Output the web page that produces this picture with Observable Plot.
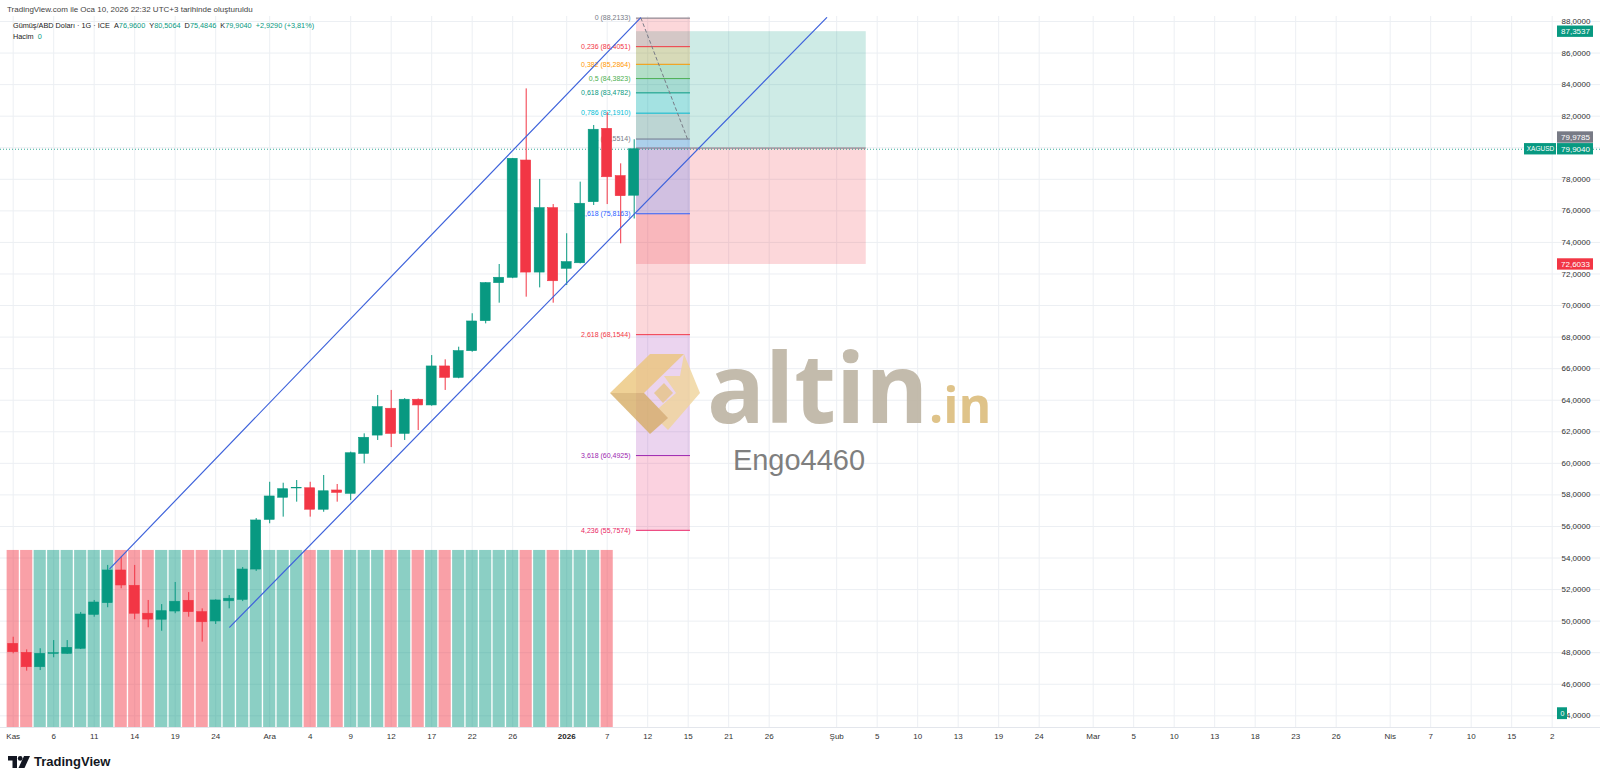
<!DOCTYPE html>
<html>
<head>
<meta charset="utf-8">
<script src="https://cdn.jsdelivr.net/npm/d3@7"></script>
<script src="https://cdn.jsdelivr.net/npm/@observablehq/plot@0.6"></script>
<style>
  html, body { margin: 0; padding: 0; background: #fff; }
  body { width: 1600px; height: 783px; position: relative; overflow: hidden; font-family: "Liberation Sans", Arial, sans-serif; }
  #chart { position: absolute; left: 0; top: 16px; }
  .abs { position: absolute; white-space: nowrap; }
  #hdr1 { left: 7px; top: 5px; font-size: 8px; color: #444; }
  #leg1 { left: 13px; top: 21px; font-size: 7.3px; color: #222; }
  #leg2 { left: 13px; top: 32px; font-size: 7.3px; color: #222; }
  .v { color: #089981; }
  #tvlogo { left: 8px; top: 754px; display: flex; align-items: center; gap: 4px; font-weight: bold; font-size: 13px; color: #131722; }
  #overlay { position: absolute; left: 0; top: 0; pointer-events: none; }
</style>
</head>
<body>
<div id="hdr1" class="abs">TradingView.com ile Oca 10, 2026 22:32 UTC+3 tarihinde oluşturuldu</div>
<div id="chart"></div>
<div id="leg1" class="abs">Gümüş/ABD Doları · 1G · ICE&nbsp;&nbsp;A<span class="v">76,9600</span>&nbsp;&nbsp;Y<span class="v">80,5064</span>&nbsp;&nbsp;D<span class="v">75,4846</span>&nbsp;&nbsp;K<span class="v">79,9040</span>&nbsp;&nbsp;<span class="v">+2,9290 (+3,81%)</span></div>
<div id="leg2" class="abs">Hacim&nbsp;&nbsp;<span class="v">0</span></div>
<svg id="overlay" width="1600" height="783">
  <g opacity="0.8">
    <polygon points="610,393 650,354 684,354 644,393" fill="#ecc67c"/>
    <polygon points="684,354 700,393 668,430 652,414 676,393 664,376 680,376" fill="#f0d49a"/>
    <polygon points="610,393 644,393 668,418 650,434" fill="#d6ad66"/>
    <polygon points="654,393 664,383 673,393 663,403" fill="#e7c587"/>
  </g>
  <text x="707" y="423" font-family="Open Sans, sans-serif" font-weight="700" font-size="96" fill="#bdb4a3" fill-opacity="0.9">altin</text>
  <text x="929" y="423" font-family="Open Sans, sans-serif" font-weight="700" font-size="50" fill="#dcbd7c" fill-opacity="0.9">.in</text>
  <text x="799" y="470" text-anchor="middle" font-family="Liberation Sans, Arial, sans-serif" font-size="29" fill="#7f7f7f">Engo4460</text>
</svg>
<div id="tvlogo" class="abs">
  <svg width="22" height="12" viewBox="0 0 22 12"><path d="M0 0h9v12h-4.5v-7.5h-4.5z" fill="#131722"/><circle cx="12.2" cy="2.4" r="2.4" fill="#131722"/><path d="M16 0h6l-5.5 12h-6z" fill="#131722"/></svg>
  <span>TradingView</span>
</div>
<script>
// ---- Data: daily candles, trading-day index 0 = 3 Kas 2025 ... 46 = 9 Oca 2026
const dates = ["2025-11-03","2025-11-04","2025-11-05","2025-11-06","2025-11-07","2025-11-10","2025-11-11","2025-11-12","2025-11-13","2025-11-14",
  "2025-11-17","2025-11-18","2025-11-19","2025-11-20","2025-11-21","2025-11-24","2025-11-25","2025-11-26","2025-11-28",
  "2025-12-01","2025-12-02","2025-12-03","2025-12-04","2025-12-05","2025-12-08","2025-12-09","2025-12-10","2025-12-11","2025-12-12",
  "2025-12-15","2025-12-16","2025-12-17","2025-12-18","2025-12-19","2025-12-22","2025-12-23","2025-12-24","2025-12-26",
  "2025-12-29","2025-12-30","2025-12-31","2026-01-02","2026-01-05","2026-01-06","2026-01-07","2026-01-08","2026-01-09"];
const openP  = [48.56,47.99,47.08,47.93,47.93,48.25,50.40,51.14,53.21,52.24,50.47,50.09,50.61,51.29,50.57,49.98,51.26,51.35,53.27,
  56.42,57.82,58.41,58.42,57.06,58.28,58.07,60.60,61.76,63.46,61.87,64.03,63.67,66.14,65.42,67.11,69.01,71.42,71.76,
  79.19,72.09,76.17,72.33,72.68,76.55,81.20,78.20,76.96];
const highP  = [48.98,48.18,48.25,48.77,48.77,50.55,51.31,53.53,54.05,53.53,51.31,51.05,52.45,51.81,50.78,51.35,51.62,53.40,56.50,
  58.80,58.74,58.91,58.80,59.23,58.66,60.71,61.87,64.30,64.62,64.10,64.08,66.83,66.56,67.36,69.48,71.45,72.60,79.32,
  83.73,77.99,76.40,74.55,77.82,81.41,82.23,78.98,80.5064];
const lowP   = [47.93,46.83,46.87,47.68,47.90,48.20,50.25,50.85,52.05,50.09,49.58,49.36,50.47,50.25,48.67,49.79,50.78,51.24,53.15,
  56.17,56.59,57.54,56.59,56.90,57.54,57.64,59.97,61.45,61.00,61.45,62.08,63.62,64.62,65.36,67.04,68.84,70.15,71.70,
  70.53,71.12,70.15,71.27,72.64,76.34,76.40,73.91,75.4846];
const closeP = [48.03,47.08,47.93,47.97,48.31,50.42,51.18,53.21,52.26,50.47,50.10,50.63,51.23,50.57,49.93,51.31,51.42,53.27,56.38,
  57.90,58.36,58.44,57.06,58.23,58.13,60.64,61.62,63.56,61.87,64.03,63.67,66.14,65.42,67.11,68.99,71.42,71.76,79.30,
  72.09,76.17,71.54,72.75,76.45,81.14,78.13,76.93,79.904];
// volume pane: equal-height bars for days 0..44, top level of the pane on the price scale
const volumeDays = 45;
const volumeTop = 54.48;

// time axis (trading-day index -> label)
const tickIdx = [0,3,6,9,12,15,19,22,25,28,31,34,37,41,44,47,50,53,56,61,64,67,70,73,76,80,83,86,89,92,95,98,102,105,108,111,114];
const tickLabels = ["Kas","6","11","14","19","24","Ara","4","9","12","17","22","26","2026","7","12","15","21","26","Şub","5","10","13","19","24","Mar","5","10","13","18","23","26","Nis","7","10","15","2"];
const priceTicks = [44,46,48,50,52,54,56,58,60,62,64,66,68,70,72,74,76,78,80,82,84,86,88];

// ascending channel (two parallel trend lines)
const channelUpper = [{i: 7.16, p: 53.33}, {i: 46.47, p: 88.23}];
const channelLower = [{i: 16.04, p: 49.62}, {i: 60.26, p: 88.25}];

// Fibonacci extension
const fibRatios = [0, 0.236, 0.382, 0.5, 0.618, 0.786, 1, 1.618, 2.618, 3.618, 4.236];
const fibPrices = [88.2133, 86.4051, 85.2864, 84.3823, 83.4782, 82.1910, 80.5514, 75.8163, 68.1544, 60.4925, 55.7574];
const fibColors = ["#787b86","#f23645","#ff9800","#4caf50","#089981","#00bcd4","#787b86","#2962ff","#f23645","#9c27b0","#e91e63"];
const fibSpan = [46.17, 50.17];
const fibTrend = [{i: 46.5, p: 88.2133}, {i: 49.95, p: 80.5514}];

// Long position tool
const longSpan = [46.17, 63.19];
const longEntry = 79.9785, longTarget = 87.3537, longStop = 72.6033;
const lastPrice = 79.904;

// ---- build
const UP = "#089981", DOWN = "#f23645";
const candles = dates.map((d, i) => ({i, date: d, o: openP[i], h: highP[i], l: lowP[i], c: closeP[i], up: closeP[i] >= openP[i]}));
const vols = candles.slice(0, volumeDays);
const fmt = v => v.toFixed(4).replace(".", ",");
const fmtRatio = r => String(r).replace(".", ",");
const fibLevels = fibRatios.map((r, k) => ({r, p: fibPrices[k], color: fibColors[k], label: `${fmtRatio(r)} (${fmt(fibPrices[k])})`}));
const fibBands = fibLevels.slice(1).map((L, k) => ({p1: fibLevels[k].p, p2: L.p, color: L.color}));
const labelOf = new Map(tickIdx.map((t, k) => [t, tickLabels[k]]));

const W = 1600, H = 729;
const xDomain = [-0.9407, 117.58];
const yDomain = [43.26, 88.317];
const px2i = px => xDomain[0] + px / W * (xDomain[1] - xDomain[0]);
const badgeH = 0.36;
const badges = [
  {p: longTarget, shift: 0, fill: "#089981", text: fmt(longTarget)},
  {p: longEntry, shift: 0.67, fill: "#787b86", text: fmt(longEntry)},
  {p: lastPrice, shift: 0, fill: "#089981", text: fmt(lastPrice)},
  {p: longStop, shift: 0, fill: "#f23645", text: fmt(longStop)}
];
const colOf = d => d.up ? UP : DOWN;

const chart = Plot.plot({
  width: W, height: H,
  marginTop: 0, marginBottom: 18, marginLeft: 0, marginRight: 0,
  x: {domain: xDomain, axis: null, label: null},
  y: {domain: yDomain, axis: null, label: null},
  color: {type: "identity"},
  style: {background: "transparent", fontFamily: "Liberation Sans, Arial, sans-serif", fontSize: "8px", color: "#333", overflow: "visible"},
  marks: [
    Plot.gridY({ticks: priceTicks, stroke: "#eceff3", strokeOpacity: 1}),
    Plot.gridX({ticks: tickIdx, stroke: "#eceff3", strokeOpacity: 1}),
    Plot.ruleY([yDomain[0]], {stroke: "#e3e6ec"}),
    // volume pane
    Plot.rect(vols, {x1: d => d.i - 0.45, x2: d => d.i + 0.45, y1: yDomain[0], y2: volumeTop, fill: colOf, fillOpacity: 0.47}),
    // long position
    Plot.rect([{a: longEntry, b: longTarget}], {x1: longSpan[0], x2: longSpan[1], y1: "a", y2: "b", fill: "#089981", fillOpacity: 0.2}),
    Plot.rect([{a: longStop, b: longEntry}], {x1: longSpan[0], x2: longSpan[1], y1: "a", y2: "b", fill: "#f23645", fillOpacity: 0.2}),
    // fib bands & levels
    Plot.rect(fibBands, {x1: fibSpan[0], x2: fibSpan[1], y1: "p1", y2: "p2", fill: "color", fillOpacity: 0.2}),
    Plot.ruleY(fibLevels, {y: "p", x1: fibSpan[0], x2: fibSpan[1], stroke: "color", strokeWidth: 1}),
    Plot.text(fibLevels, {x: fibSpan[0], y: "p", text: "label", fill: "color", textAnchor: "end", dx: -6, fontSize: 7}),
    Plot.line(fibTrend, {x: "i", y: "p", stroke: "#787b86", strokeDasharray: "3,3", strokeWidth: 1}),
    Plot.ruleY([longEntry], {x1: longSpan[0], x2: longSpan[1], stroke: "#787b86", strokeWidth: 1}),
    // last price dotted line
    Plot.ruleY([lastPrice], {stroke: "#089981", strokeDasharray: "1,2", strokeWidth: 1, strokeOpacity: 0.8}),
    // candles
    Plot.ruleX(candles, {x: "i", y1: "l", y2: "h", stroke: colOf, strokeWidth: 1}),
    Plot.rect(candles, {x1: d => d.i - 0.37, x2: d => d.i + 0.37, y1: "o", y2: "c", fill: colOf, stroke: colOf, strokeWidth: 0.6}),
    // channel
    Plot.line(channelUpper, {x: "i", y: "p", stroke: "#3f63db", strokeWidth: 1.2}),
    Plot.line(channelLower, {x: "i", y: "p", stroke: "#3f63db", strokeWidth: 1.2}),
    // axes
    Plot.axisY({ticks: priceTicks, anchor: "right", label: null, tickSize: 0, tickPadding: 0, dx: -39, textAnchor: "start", tickFormat: fmt, fill: "#333", fontSize: 8}),
    Plot.axisX({ticks: tickIdx.filter(t => labelOf.get(t) !== "2026"), anchor: "bottom", label: null, tickSize: 0, tickPadding: 6, tickFormat: t => labelOf.get(t), fill: "#333", fontSize: 8}),
    Plot.axisX({ticks: tickIdx.filter(t => labelOf.get(t) === "2026"), anchor: "bottom", label: null, tickSize: 0, tickPadding: 6, tickFormat: t => labelOf.get(t), fill: "#222", fontSize: 8, fontWeight: "bold"}),
    // price-scale badges
    Plot.rect(badges, {x1: px2i(1557), x2: px2i(1593), y1: d => d.p + d.shift - badgeH, y2: d => d.p + d.shift + badgeH, fill: "fill"}),
    Plot.text(badges, {x: px2i(1575), y: d => d.p + d.shift, text: "text", fill: "white", fontSize: 8}),
    Plot.rect([lastPrice], {x1: px2i(1524), x2: px2i(1556), y1: d => d - badgeH, y2: d => d + badgeH, fill: "#089981"}),
    Plot.text([lastPrice], {x: px2i(1540), y: d => d, text: () => "XAGUSD", fill: "white", fontSize: 6.5}),
    Plot.rect([0], {x1: px2i(1557), x2: px2i(1567), y1: yDomain[0] + 0.5, y2: yDomain[0] + 1.25, fill: "#089981"}),
    Plot.text([0], {x: px2i(1562), y: yDomain[0] + 0.87, text: d => String(d), fill: "white", fontSize: 7})
  ]
});
document.getElementById("chart").appendChild(chart);
</script>
</body>
</html>
